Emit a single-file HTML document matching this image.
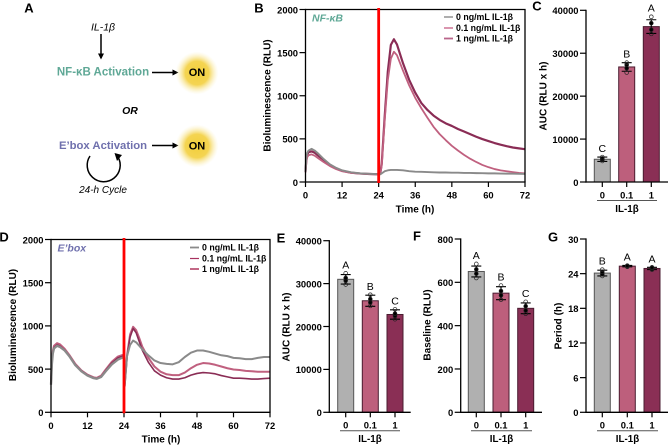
<!DOCTYPE html>
<html lang="en">
<head>
<meta charset="utf-8">
<title>IL-1β bioluminescence figure</title>
<style>
html,body{margin:0;padding:0;background:#fff;}
#fig{display:block;width:669px;height:446px;font-family:"Liberation Sans",sans-serif;filter:blur(0.3px);}
text{font-family:"Liberation Sans",sans-serif;}
</style>
</head>
<body>
<svg id="fig" xmlns="http://www.w3.org/2000/svg" width="669" height="446" viewBox="0 0 669 446">
<defs>
<radialGradient id="glow"><stop offset="0" stop-color="#f2cf3a"/><stop offset="0.55" stop-color="#f4d452"/><stop offset="1" stop-color="#fbf0bd" stop-opacity="0"/></radialGradient>
<marker id="ah" markerWidth="6" markerHeight="6" refX="4.5" refY="3" orient="auto" markerUnits="userSpaceOnUse"><path d="M0,0 L6,3 L0,6 Z" fill="#000"/></marker>
</defs>
<g text-anchor="middle" dominant-baseline="central">
<text x="103" y="27.5" font-size="10.5" font-style="italic">IL-1β</text>
<line x1="101" y1="34" x2="101" y2="58" stroke="#000" stroke-width="1.5" marker-end="url(#ah)"/>
<text x="103" y="72.5" font-size="11.5" font-weight="bold" fill="#5fa896">NF-κB Activation</text>
<line x1="152" y1="72.5" x2="177" y2="72.5" stroke="#000" stroke-width="1.5" marker-end="url(#ah)"/>
<circle cx="197" cy="73" r="21.5" fill="url(#glow)"/>
<text x="197" y="73" font-size="11" font-weight="bold">ON</text>
<text x="130" y="111" font-size="10.5" font-weight="bold" font-style="italic">OR</text>
<text x="103" y="146" font-size="11.3" font-weight="bold" fill="#6f70ad">E’box Activation</text>
<line x1="152" y1="145.5" x2="177" y2="145.5" stroke="#000" stroke-width="1.5" marker-end="url(#ah)"/>
<circle cx="197" cy="146" r="21.5" fill="url(#glow)"/>
<text x="197" y="146.5" font-size="11" font-weight="bold">ON</text>
<path d="M90,156 A16.5,16.5 0 1 0 118,157" fill="none" stroke="#000" stroke-width="1.5"/>
<path d="M114.5,153 L122,155 L117,161 Z" fill="#000"/>
<text x="103" y="190.5" font-size="10" font-style="italic">24-h Cycle</text>
</g>
<g font-size="13" font-weight="bold" text-anchor="middle" dominant-baseline="central">
<text x="29" y="8">A</text>
<text x="259" y="8">B</text>
<text x="537" y="6">C</text>
<text x="4" y="237">D</text>
<text x="281" y="238">E</text>
<text x="417" y="236">F</text>
<text x="553" y="237">G</text>
</g>
<g id="charts"></g>
</svg>
<script>
// Panel B: NF-kB traces
const nfHours = [0,0.3,0.6,1,2,3,4,6,8,10,12,15,18,21,24,24.5,25,26,27,28,29,30,32,34,36,38,40,42,44,46,48,50,52,54,56,58,60,62,64,66,68,70,72];
const nfZero = [120,290,340,365,385,365,335,265,205,165,135,112,100,95,90,90,100,125,135,140,140,140,135,125,120,118,115,112,110,110,108,108,105,105,103,102,100,100,98,97,96,95,94];
const nfLow = [110,240,290,310,320,305,280,230,185,150,125,105,98,92,88,90,190,720,1180,1430,1510,1470,1290,1120,975,855,745,640,555,485,420,365,315,270,232,198,172,150,135,125,115,106,100];
const nfHigh = [120,270,320,345,355,340,310,255,200,160,130,108,98,93,90,92,210,770,1280,1590,1655,1595,1375,1185,1035,915,835,770,720,680,650,615,585,555,525,498,475,452,432,415,400,390,380];
// Panel D: E'box traces
const ebHoursA = [0,0.3,0.6,1,2,3,4.5,6,8,10,12,14,15,16.5,18,20,22,24];
const ebZeroA = [320,560,680,740,770,755,715,650,545,475,425,395,388,410,475,555,610,640];
const ebLowA = [320,570,690,750,780,765,720,655,550,480,430,398,392,415,485,570,630,655];
const ebHighA = [330,590,710,770,800,785,735,665,560,485,435,405,398,425,495,585,645,670];
const ebHoursB = [24.2,25,26,27,28,29,30,32,34,36,38,40,42,44,46,48,50,52,54,56,58,60,62,64,66,68,70,72];
const ebZeroB = [300,650,780,830,810,770,730,660,600,570,560,555,580,640,690,715,715,700,680,660,650,630,625,615,615,630,640,640];
const ebLowB = [300,640,870,970,920,820,720,580,480,430,400,385,385,400,430,450,460,455,445,425,410,395,395,390,385,385,390,395];
const ebHighB = [300,660,900,990,950,860,760,630,530,470,440,430,430,460,510,550,570,565,550,530,510,495,490,480,475,470,470,470];
// Shared tick labels
const timeTicks = [0,12,24,36,48,60,72];
const rluTicks = [0,500,1000,1500,2000];
const aucTicks = [0,10000,20000,30000,40000];
const baselineTicks = [0,200,400,600,800];
const periodTicks = [0,6,12,18,24,30];
const doses = ['0','0.1','1'];
const legendLabels = ['0 ng/mL IL-1β','0.1 ng/mL IL-1β','1 ng/mL IL-1β'];
// Panel C
const cMeans = [5300,26800,36200];
const cSds = [500,1000,1600];
const cPoints = [[4900,5200,5500,5800],[25500,26500,27300,27800],[34500,35500,37000,38500]];
const cLetters = ['C','B','A'];
// Panel E
const eMeans = [31000,26000,22800];
const eSds = [1100,1300,1100];
const ePoints = [[29800,30700,31300,32400],[24800,25600,26400,27400],[21700,22500,23000,24000]];
const eLetters = ['A','B','C'];
// Panel F
const fMeans = [650,550,480];
const fSds = [25,30,25];
const fPoints = [[620,640,660,685],[520,540,560,585],[455,470,490,510]];
const fLetters = ['A','B','C'];
// Panel G
const gMeans = [24.1,25.3,24.9];
const gSds = [0.5,0.12,0.2];
const gPoints = [[23.6,23.9,24.3,24.7],[25.2,25.3,25.3,25.4],[24.7,24.8,25,25.1]];
const gLetters = ['B','A','A'];

const NS = 'http://www.w3.org/2000/svg';
const root = document.getElementById('charts');
const GRAY = '#8a8a8a', PINK = '#c0607f', MAROON = '#8a2c55';

function shape(tag, attrs, parent) {
  const el = document.createElementNS(NS, tag);
  for (const k in attrs) el.setAttribute(k, attrs[k]);
  (parent || root).appendChild(el);
  return el;
}
function label(txt, x, y, size, anchor, extra, parent) {
  const el = shape('text', Object.assign({x: x, y: y, 'font-size': size, 'font-weight': 'bold', 'text-anchor': anchor, 'dominant-baseline': 'central'}, extra || {}), parent);
  el.textContent = txt;
  return el;
}
function yAxis(g, x, y0, yTop, ticks, name) {
  const max = ticks[ticks.length - 1];
  const ax = shape('line', {x1: x, x2: x, y1: y0 + 0.6, y2: yTop - 0.6, stroke: '#000', 'stroke-width': 1.3}, g);
  
  
  ticks.forEach(function (t) {
    const y = y0 - t / max * (y0 - yTop);
    const tk = shape('line', {x1: x - 6, x2: x, y1: y, y2: y, stroke: '#000', 'stroke-width': 1.2}, g);
    
    
    const tl = label(String(t), x - 7.5, y + 0.3, 9.4, 'end', null, g);
    
    
  });
}
function linePanel(name, box, series, legendX, legendYs, legendColors, legendWidths, inset, insetColor, titleX, titleY, timeX, timeY) {
  const g = shape('g', {});
  
  
  const sx = function (h) { return box.x0 + h / 72 * (box.x1 - box.x0); };
  const sy = function (v) { return box.y0 - v / 2000 * (box.y0 - box.yTop); };
  series.forEach(function (s) {
    const p = shape('polyline', {
      points: s.hours.map(function (h, i) { return sx(h).toFixed(2) + ',' + sy(s.values[i]).toFixed(2); }).join(' '),
      fill: 'none', stroke: s.color, 'stroke-width': s.width, 'stroke-linejoin': 'round'
    }, g);
    
    
  });
  const frame = shape('path', {d: 'M' + box.x0 + ',' + box.yTop + ' H' + box.x1 + ' V' + box.y0, fill: 'none', stroke: '#000', 'stroke-width': 1.3}, g);
  
  
  const xa = shape('line', {x1: box.x0 - 0.6, x2: box.x1 + 0.6, y1: box.y0, y2: box.y0, stroke: '#000', 'stroke-width': 1.3}, g);
  
  
  yAxis(g, box.x0, box.y0, box.yTop, rluTicks, name);
  timeTicks.forEach(function (t) {
    const tk = shape('line', {x1: sx(t), x2: sx(t), y1: box.y0, y2: box.y0 + 5, stroke: '#000', 'stroke-width': 1.2}, g);
    
    
    const tl = label(String(t), sx(t), box.y0 + 13, 9.4, 'middle', null, g);
    
    
  });
  const red = shape('line', {x1: sx(24), x2: sx(24), y1: box.yTop - 1.5, y2: box.y0 + 1, stroke: '#ff0000', 'stroke-width': 2.8}, g);
  
  
  const ins = label(inset, box.x0 + 6.5, box.yTop + 9, 10.5, 'start', {'font-style': 'italic', fill: insetColor}, g);
  
  
  const yt = label('Bioluminescence (RLU)', 0, 0, 10, 'middle', {transform: 'translate(' + titleX + ',' + titleY + ') rotate(-90)'}, g);
  
  
  const xt = label('Time (h)', timeX, timeY, 10, 'middle', null, g);
  
  
  legendLabels.forEach(function (txt, i) {
    const sw = shape('line', {x1: legendX, x2: legendX + 9, y1: legendYs[i], y2: legendYs[i], stroke: legendColors[i], 'stroke-width': legendWidths[i]}, g);
    
    
    const lt = label(txt, legendX + 12, legendYs[i], 8.8, 'start', null, g);
    
    
  });
}
function barPanel(name, axis, ticks, centers, means, sds, points, letters, title, titleX, titleY, groupX0, groupX1) {
  const g = shape('g', {});
  
  
  const max = ticks[ticks.length - 1];
  const sy = function (v) { return axis.y0 - v / max * (axis.y0 - axis.yTop); };
  const fills = ['#b0b0b0', '#bd5f7c', '#8a2f55'];
  const edges = ['#555555', '#4a1c30', '#4a1c30'];
  const w = 16;
  means.forEach(function (m, i) {
    const c = centers[i];
    const bar = shape('rect', {x: c - w / 2, y: sy(m), width: w, height: axis.y0 - sy(m), fill: fills[i], stroke: edges[i], 'stroke-width': 1}, g);
    
    
    const top = sy(m + sds[i]), bot = sy(m - sds[i]);
    const err = shape('path', {d: 'M' + c + ',' + top + ' V' + bot + ' M' + (c - 5) + ',' + top + ' H' + (c + 5) + ' M' + (c - 5) + ',' + bot + ' H' + (c + 5), fill: 'none', stroke: '#000', 'stroke-width': 1.1}, g);
    
    
    points[i].forEach(function (p) {
      const filled = Math.abs(p - m) < sds[i] * 0.8;
      const dot = shape('circle', {cx: c, cy: sy(p), r: 1.9, fill: filled ? '#000' : 'none', stroke: '#222', 'stroke-width': 0.7}, g);
      
      
    });
    const lt = label(letters[i], c, Math.min(top, sy(Math.max.apply(null, points[i]))) - 8, 10.5, 'middle', {'font-weight': 'normal'}, g);
    
    
    const tk = shape('line', {x1: c, x2: c, y1: axis.y0, y2: axis.y0 + 5, stroke: '#000', 'stroke-width': 1.2}, g);
    
    
    const tl = label(doses[i], c, axis.y0 + 12.8, 9.4, 'middle', null, g);
    
    
  });
  const xa = shape('line', {x1: axis.x - 0.6, x2: axis.xEnd, y1: axis.y0, y2: axis.y0, stroke: '#000', 'stroke-width': 1.3}, g);
  
  
  yAxis(g, axis.x, axis.y0, axis.yTop, ticks, name);
  const yt = label(title, 0, 0, 10, 'middle', {transform: 'translate(' + titleX + ',' + titleY + ') rotate(-90)'}, g);
  
  
  const gl = shape('line', {x1: groupX0, x2: groupX1, y1: axis.y0 + 18.5, y2: axis.y0 + 18.5, stroke: '#555', 'stroke-width': 1}, g);
  
  
  const gt = label('IL-1β', (groupX0 + groupX1) / 2, axis.y0 + 27.3, 9.8, 'middle', null, g);
  
  
}

linePanel('panel-b-nfkb', {x0: 305.5, x1: 525, y0: 182, yTop: 9.5}, [
  {name: 'series-1-ng', hours: nfHours, values: nfHigh, color: MAROON, width: 2.2},
  {name: 'series-0-1-ng', hours: nfHours, values: nfLow, color: PINK, width: 1.8},
  {name: 'series-0-ng', hours: nfHours, values: nfZero, color: GRAY, width: 1.9}
], 444, [17, 28, 38.5], ['#777777', '#c0507a', '#b9658a'], [1.2, 1.2, 1.8], 'NF-κB', '#5fa896', 268, 95.5, 415, 210);

linePanel('panel-d-ebox', {x0: 51, x1: 270, y0: 412.3, yTop: 239.5}, [
  {name: 'series-1-ng-pre', hours: ebHoursA, values: ebHighA, color: PINK, width: 2},
  {name: 'series-0-1-ng-pre', hours: ebHoursA, values: ebLowA, color: MAROON, width: 1.6},
  {name: 'series-0-ng-pre', hours: ebHoursA, values: ebZeroA, color: GRAY, width: 2.3},
  {name: 'series-1-ng-post', hours: ebHoursB, values: ebHighB, color: PINK, width: 2},
  {name: 'series-0-1-ng-post', hours: ebHoursB, values: ebLowB, color: MAROON, width: 1.6},
  {name: 'series-0-ng-post', hours: ebHoursB, values: ebZeroB, color: GRAY, width: 2}
], 190, [247.5, 258.5, 269], ['#8a8a8a', '#a8325f', '#c0607f'], [1.8, 1.2, 1.9], 'E’box', '#6f70ad', 13.5, 325, 161, 440);

barPanel('panel-c-auc', {x: 586, xEnd: 668, y0: 182, yTop: 10.3}, aucTicks, [602.3, 626.7, 651.3], cMeans, cSds, cPoints, cLetters, 'AUC (RLU x h)', 544, 96, 597, 657);
barPanel('panel-e-auc', {x: 329.3, xEnd: 410.7, y0: 412.3, yTop: 240.7}, aucTicks, [345.7, 370.3, 395], eMeans, eSds, ePoints, eLetters, 'AUC (RLU x h)', 287, 327, 340, 400);
barPanel('panel-f-baseline', {x: 460.7, xEnd: 542, y0: 412.3, yTop: 239}, baselineTicks, [476.3, 501, 525.7], fMeans, fSds, fPoints, fLetters, 'Baseline (RLU)', 428, 325, 471, 532);
barPanel('panel-g-period', {x: 586, xEnd: 668, y0: 412.3, yTop: 239}, periodTicks, [602.3, 627.3, 652], gMeans, gSds, gPoints, gLetters, 'Period (h)', 559, 326, 597, 658);
</script>
</body>
</html>
